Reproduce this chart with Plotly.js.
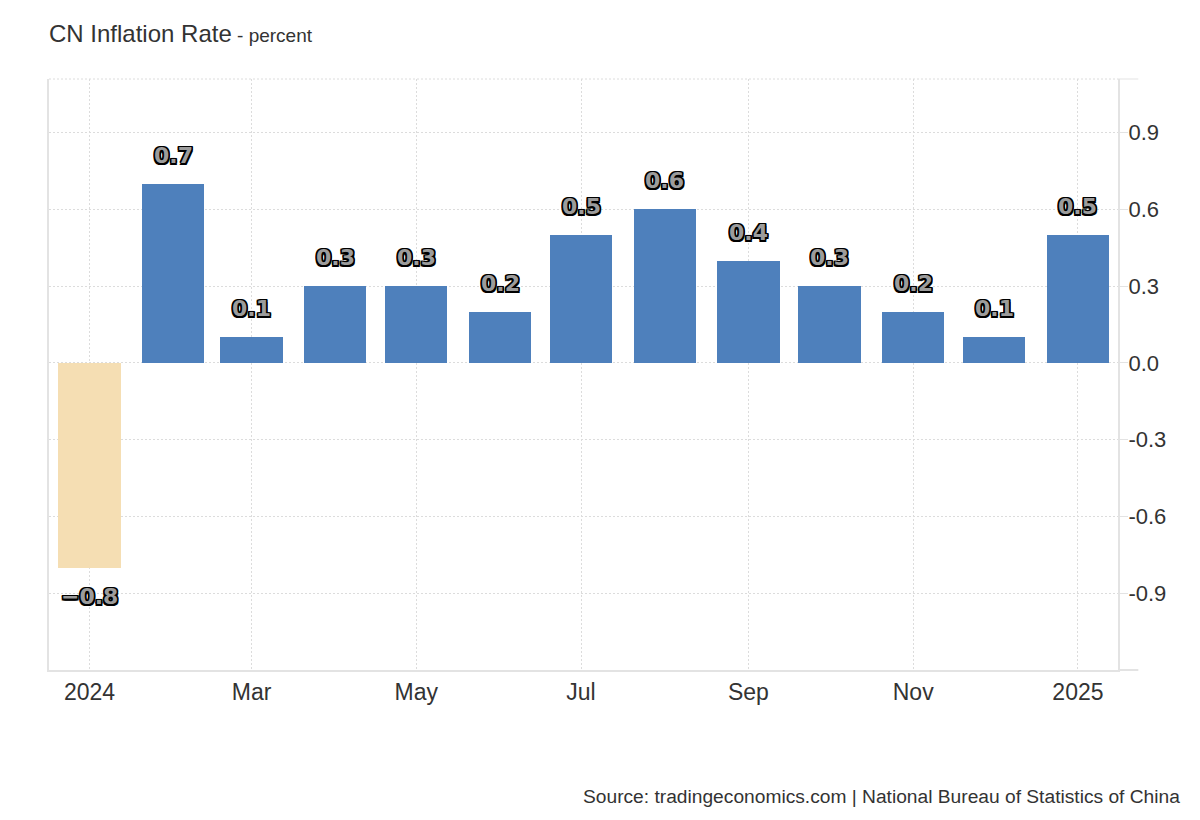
<!DOCTYPE html>
<html>
<head>
<meta charset="utf-8">
<script src="https://cdn.plot.ly/plotly-3.0.1.min.js"></script>
<style>
html,body{margin:0;padding:0;background:#fff;}
#chart{width:1200px;height:820px;}
</style>
</head>
<body>
<div id="chart"></div>
<script>
// Data
const months = ['2024-01-01','2024-02-01','2024-03-01','2024-04-01','2024-05-01','2024-06-01','2024-07-01','2024-08-01','2024-09-01','2024-10-01','2024-11-01','2024-12-01','2025-01-01'];
const inflation = [-0.8, 0.7, 0.1, 0.3, 0.3, 0.2, 0.5, 0.6, 0.4, 0.3, 0.2, 0.1, 0.5];
const xTickVals = ['2024-01-01','2024-03-01','2024-05-01','2024-07-01','2024-09-01','2024-11-01','2025-01-01'];
const xTickText = ['2024','Mar','May','Jul','Sep','Nov','2025'];
const yTickVals = [-0.9, -0.6, -0.3, 0, 0.3, 0.6, 0.9];

const BLUE = '#4e80bc';
const WHEAT = '#f5deb3';
const DAY = 86400000;
const GRID = '#dcdcdc';
const AXIS = '#e3e3e3';

const barColors = inflation.map(v => v < 0 ? WHEAT : BLUE);

const trace = {
  type: 'bar',
  x: months,
  y: inflation,
  width: months.map(() => 23 * DAY),
  marker: {color: barColors, line: {width: 0}},
  hoverinfo: 'x+y'
};

const s = '1.5px';
const labelShadow = [
  `${s} ${s} 0 #000`, `-${s} -${s} 0 #000`, `${s} -${s} 0 #000`, `-${s} ${s} 0 #000`,
  `0 ${s} 0 #000`, `0 -${s} 0 #000`, `${s} 0 0 #000`, `-${s} 0 0 #000`
].join(', ');

const fmt = v => (v < 0 ? '\u2212' : '') + Math.abs(v).toFixed(1);

const annotations = inflation.map((v, i) => ({
  x: months[i],
  y: v,
  xref: 'x', yref: 'y',
  text: fmt(v),
  showarrow: false,
  yanchor: v < 0 ? 'top' : 'bottom',
  yshift: v < 0 ? -14 : 14,
  font: {family: 'DejaVu Sans, sans-serif', size: 22, color: '#9c9c9c', weight: 'bold', shadow: labelShadow}
}));

annotations.push({
  xref: 'paper', yref: 'paper', x: 0, y: 1.0, xshift: -2, yshift: 46,
  xanchor: 'left', yanchor: 'middle', showarrow: false,
  text: 'CN Inflation Rate<span style="font-size:19px"> - percent</span>',
  font: {family: 'Liberation Sans, Arial, sans-serif', size: 24, color: '#333'}
});
annotations.push({
  xref: 'paper', yref: 'paper', x: 1.0, y: 0, xshift: 64, yshift: -126,
  xanchor: 'right', yanchor: 'middle', showarrow: false,
  text: 'Source: tradingeconomics.com | National Bureau of Statistics of China',
  font: {family: 'Liberation Sans, Arial, sans-serif', size: 19.2, color: '#333'}
});

const layout = {
  width: 1200, height: 820,
  margin: {l: 49, r: 82, t: 79, b: 150},
  paper_bgcolor: '#fff', plot_bgcolor: '#fff',
  showlegend: false,
  bargap: 0,
  font: {family: 'Liberation Sans, Arial, sans-serif', size: 22, color: '#333'},
  xaxis: {
    type: 'date',
    range: ['2023-12-17', '2025-01-15 20:00'],
    tickmode: 'array', tickvals: xTickVals, ticktext: xTickText,
    showgrid: true, gridcolor: GRID, griddash: '2px,2px', gridwidth: 1,
    showline: true, linecolor: AXIS, linewidth: 2,
    ticks: '', ticklabelstandoff: 0,
    tickfont: {size: 23, color: '#333'},
    zeroline: false, fixedrange: true
  },
  yaxis: {
    side: 'right',
    range: [-1.2, 1.11],
    tickmode: 'array', tickvals: yTickVals, ticktext: yTickVals.map(v => v.toFixed(1)),
    showgrid: true, gridcolor: GRID, griddash: '2px,2px', gridwidth: 1,
    showline: true, mirror: true, linecolor: AXIS, linewidth: 2,
    ticks: 'outside', ticklen: 8, tickcolor: AXIS, tickwidth: 1,
    ticklabelstandoff: -4,
    tickfont: {size: 22, color: '#333'},
    zeroline: false, fixedrange: true
  },
  shapes: [
    {type: 'line', xref: 'paper', yref: 'paper', x0: 0, x1: 1, y0: 1, y1: 1,
     line: {color: GRID, width: 1, dash: '2px,2px'}},
    {type: 'line', xref: 'paper', yref: 'paper', x0: 1, x1: 1.019, y0: 1, y1: 1,
     line: {color: AXIS, width: 1}},
    {type: 'line', xref: 'paper', yref: 'paper', x0: 1, x1: 1.019, y0: 0, y1: 0,
     line: {color: AXIS, width: 2}}
  ],
  annotations: annotations
};

Plotly.newPlot('chart', [trace], layout, {displayModeBar: false, staticPlot: true});
</script>
</body>
</html>
